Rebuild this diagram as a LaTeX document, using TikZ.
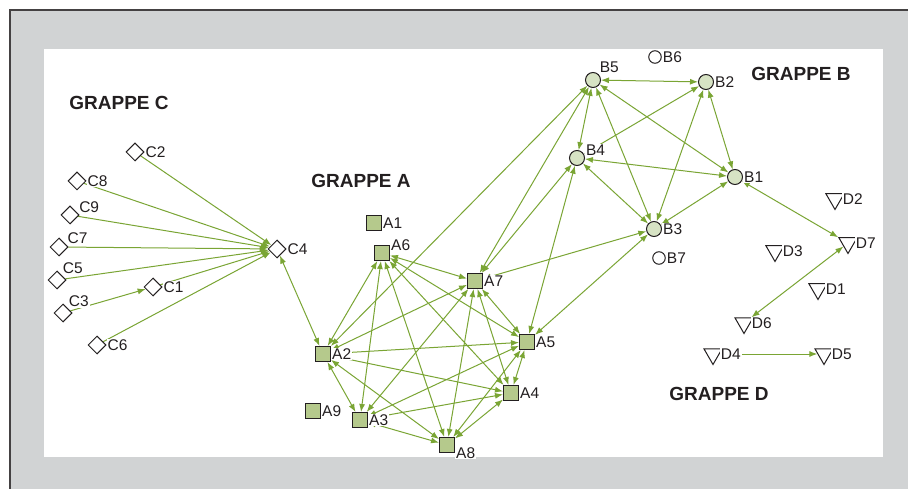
\documentclass[tikz,border=0pt]{standalone}
\usepackage{fontspec}
\setmainfont{Liberation Sans}
\usetikzlibrary{arrows.meta,backgrounds,shapes.geometric}
\pgfdeclarelayer{frame}
\pgfsetlayers{frame,background,main}
\definecolor{linkGreen}{RGB}{122,165,52}
\definecolor{squareFill}{RGB}{181,201,140}
\definecolor{circleFill}{RGB}{215,227,196}
\definecolor{frameGray}{RGB}{209,211,212}
\definecolor{inkBlack}{RGB}{35,31,32}
\newcommand{\pictureWidth}{908}
\newcommand{\pictureHeight}{489}
\newcommand{\titleFont}{\fontsize{19}{21}\selectfont\bfseries}
\newcommand{\labelFont}{\fontsize{15.5}{17}\selectfont}

\begin{document}
\begin{tikzpicture}[x=1pt, y=-1pt, >={Latex[length=8pt,width=6pt]},
    link/.style={draw=linkGreen, line width=1pt},
    lbl/.style={font=\labelFont, text=inkBlack, fill=white, inner sep=1pt},
    grappe/.style={font=\titleFont, text=inkBlack},
    shapeBase/.style={draw=inkBlack, line width=1pt, inner sep=0pt,
        label distance=1.5pt},
    cNode/.style={shapeBase, diamond, fill=white, minimum size=18pt},
    aNode/.style={shapeBase, rectangle, fill=squareFill, minimum size=15pt},
    bNode/.style={shapeBase, circle, fill=circleFill, minimum size=15pt},
    bLone/.style={shapeBase, circle, fill=white, minimum size=12.5pt},
    dNode/.style={shapeBase, regular polygon, regular polygon sides=3,
        shape border rotate=180, fill=white, minimum size=21pt}]
\useasboundingbox (0,0) rectangle (\pictureWidth,\pictureHeight);

% cadre
\begin{pgfonlayer}{frame}
    \fill[frameGray] (10,10) rectangle (\pictureWidth,\pictureHeight);
    \draw[inkBlack!85, line width=1.3pt] (10,\pictureHeight) -- (10,10) -- (\pictureWidth,10);
    \fill[white] (44,49) rectangle (883,457);
\end{pgfonlayer}

\node[grappe] (grappeC) at (119,103) {GRAPPE C};
\node[grappe] (grappeA) at (361,181) {GRAPPE A};
\node[grappe] (grappeB) at (801,74) {GRAPPE B};
\node[grappe] (grappeD) at (719,394) {GRAPPE D};

% grappe C
\node[cNode, label={[lbl]right:C2}] (C2) at (135,152) {};
\node[cNode, label={[lbl]right:C8}] (C8) at (77,181) {};
\node[cNode, label={[lbl]10:C9}] (C9) at (70,215) {};
\node[cNode, label={[lbl]15:C7}] (C7) at (59,247) {};
\node[cNode, label={[lbl]above right:C5}] (C5) at (57,280) {};
\node[cNode, label={[lbl]above right:C3}] (C3) at (63,313) {};
\node[cNode, label={[lbl]right:C1}] (C1) at (153,287) {};
\node[cNode, label={[lbl]right:C6}] (C6) at (97,345) {};
\node[cNode, label={[lbl]right:C4}] (C4) at (277,249) {};

% grappe A
\node[aNode, label={[lbl]right:A1}] (A1) at (374,223) {};
\node[aNode, label={[lbl]10:A6}] (A6) at (382,253) {};
\node[aNode, label={[lbl]right:A7}] (A7) at (475,281) {};
\node[aNode, label={[lbl]right:A2}] (A2) at (323,354) {};
\node[aNode, label={[lbl]right:A5}] (A5) at (527,342) {};
\node[aNode, label={[lbl]right:A4}] (A4) at (511,393) {};
\node[aNode, label={[lbl]right:A9}] (A9) at (313,411) {};
\node[aNode, label={[lbl]right:A3}] (A3) at (360,420) {};
\node[aNode, label={[lbl]-8:A8}] (A8) at (447,445) {};

% grappe B
\node[bLone, label={[lbl]right:B6}] (B6) at (655,57) {};
\node[bNode, label={[lbl]above right:B5}] (B5) at (593,80) {};
\node[bNode, label={[lbl]right:B2}] (B2) at (706,82) {};
\node[bNode, label={[lbl]10:B4}] (B4) at (577,158) {};
\node[bNode, label={[lbl]right:B1}] (B1) at (735,177) {};
\node[bNode, label={[lbl]right:B3}] (B3) at (654,229) {};
\node[bLone, label={[lbl]right:B7}] (B7) at (659,258) {};

% grappe D
\node[dNode, label={[lbl]right:D2}] (D2) at (835,199) {};
\node[dNode, label={[lbl]right:D7}] (D7) at (848,243) {};
\node[dNode, label={[lbl]right:D3}] (D3) at (775,251) {};
\node[dNode, label={[lbl]right:D1}] (D1) at (818,289) {};
\node[dNode, label={[lbl]right:D6}] (D6) at (744,323) {};
\node[dNode, label={[lbl]right:D4}] (D4) at (713,354) {};
\node[dNode, label={[lbl]right:D5}] (D5) at (824,354) {};

\begin{pgfonlayer}{background}
    \foreach \src in {C2,C8,C9,C7,C5,C1,C6}
        \draw[link,->] (\src) -- (C4);
    \draw[link,->] (C3) -- (C1);
    \draw[link,<->] (C4) -- (A2);
    \foreach \a/\b in {A6/A2,A6/A3,A6/A8,A6/A7,A6/A5,A6/A4,A2/A7,A2/A5,A2/A4,
            A2/A3,A2/A8,A7/A3,A7/A8,A7/A5,A7/A4,A5/A3,A3/A4,A3/A8,A5/A4,A5/A8,A4/A8}
        \draw[link,<->] (\a) -- (\b);
    \foreach \a/\b in {B5/A2,B5/A7,B4/A7,B4/A5,B3/A7,B3/A5}
        \draw[link,<->] (\a) -- (\b);
    \foreach \a/\b in {B5/B2,B5/B4,B5/B3,B5/B1,B2/B4,B2/B3,B2/B1,B4/B1,B4/B3,B1/B3}
        \draw[link,<->] (\a) -- (\b);
    \draw[link,<->] (B1) -- (D7);
    \draw[link,<->] (D7) -- (D6);
    \draw[link,->] (D4) -- (D5);
\end{pgfonlayer}
\end{tikzpicture}
\end{document}
